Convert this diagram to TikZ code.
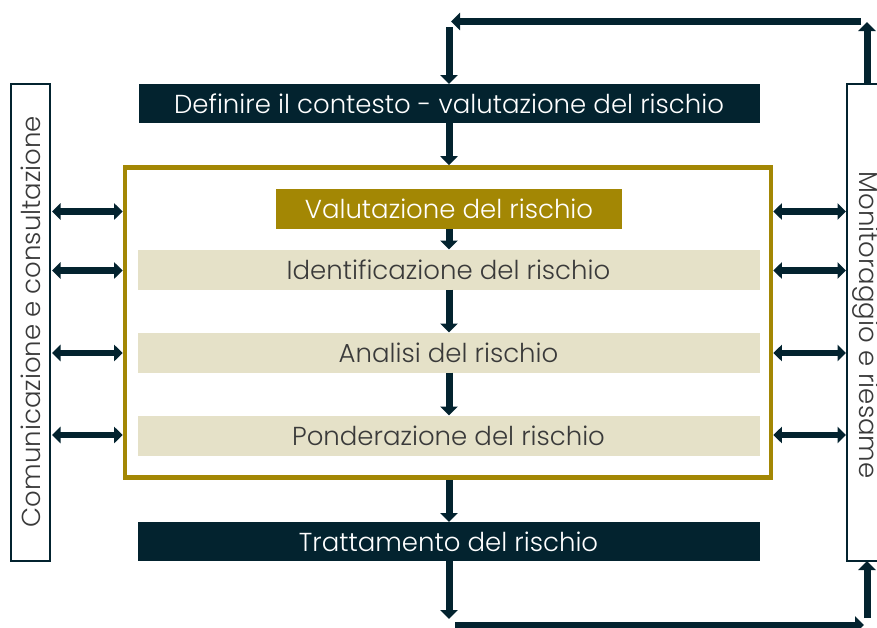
\documentclass[tikz,border=0pt]{standalone}
\usepackage{fontspec}
\IfFontExistsTF{Poppins Light}{\setmainfont{Poppins Light}}{\setmainfont{Poppins}}
\usetikzlibrary{arrows.meta}
\definecolor{navy}{HTML}{03232F}
\definecolor{gold}{HTML}{A38704}
\definecolor{beige}{HTML}{E5E1C8}
\definecolor{txtgray}{HTML}{3A3A3A}
\begin{document}
\begin{tikzpicture}[x=1pt,y=-1pt,
  every node/.style={inner sep=0pt,outer sep=0pt,font=\fontsize{26}{28}\selectfont},
  darkbox/.style={fill=navy,text=white,minimum width=621pt,minimum height=39pt},
  goldbox/.style={fill=gold,text=white,minimum width=346pt,minimum height=40pt},
  band/.style={fill=beige,text=txtgray,minimum width=622pt,minimum height=40pt},
  sidebox/.style={draw=navy,line width=1.2pt,fill=white,text=txtgray,minimum width=39pt,minimum height=477pt},
  arr/.style={draw=navy,line width=7pt,-{Triangle[width=17pt,length=9pt]}},
  darr/.style={draw=navy,line width=6.5pt,{Triangle[width=16pt,length=8.5pt]}-{Triangle[width=16pt,length=8.5pt]}}
]
\useasboundingbox (0,0) rectangle (877,627);
% side boxes
\node[sidebox] (lbox) at (30.5,322.5) {};
\node[rotate=90,text=txtgray] (ltext) at (31,321.5) {Comunicazione e consultazione};
\node[sidebox,minimum width=40pt] (rbox) at (867,322.5) {};
\node[rotate=-90,text=txtgray] (rtext) at (866,325) {Monitoraggio e riesame};
% main boxes
\node[darkbox] (def) at (449,103.5) {Definire il contesto - valutazione del rischio};
\node[draw=gold,line width=4.6pt,minimum width=646pt,minimum height=310pt,outer sep=2.3pt] (frame) at (448,322.5) {};
\node[goldbox] (val) at (449,209) {Valutazione del rischio};
\node[band] (ident) at (448.5,269.5) {Identificazione del rischio};
\node[band] (anal) at (448.5,352.5) {Analisi del rischio};
\node[band] (pond) at (448.5,435.5) {Ponderazione del rischio};
\node[darkbox,minimum width=622pt] (tratt) at (448.5,541.5) {Trattamento del rischio};
% coordinates for the loop
\coordinate (b1) at (449,619);
\coordinate (b2) at (455,625);
\coordinate (b3) at (864,625);
\coordinate (b4) at (867,618);
\coordinate (t1) at (867,22);
\coordinate (t2) at (861,21.5);
\coordinate (t3) at (451,21.5);
\coordinate (t4) at (449,27);
% vertical flow
\draw[arr] (t4) -- (def.north -| t4);
\draw[arr] (def.south -| t4) -- (frame.north -| t4);
\draw[arr] (val.south -| t4) -- (ident.north -| t4);
\draw[arr] (ident.south -| t4) -- (anal.north -| t4);
\draw[arr] (anal.south -| t4) -- (pond.north -| t4);
\draw[arr] (frame.south -| t4) -- (tratt.north -| t4);
\draw[arr] (tratt.south -| t4) -- (b1);
\draw[arr] (b2) -- (b3);
\draw[arr] (b4) -- (rbox.south -| b4);
\draw[arr] (rbox.north -| t1) -- (t1);
\draw[arr] (t2) -- (t3);
% double arrows
\foreach \n/\yy in {val/211.5,ident/270.5,anal/353,pond/435}{
  \draw[darr] ([xshift=2pt]lbox.east |- 0,\yy) -- (frame.west |- 0,\yy);
  \draw[darr] (frame.east |- 0,\yy) -- ([xshift=-1pt]rbox.west |- 0,\yy);
}
\end{tikzpicture}
\end{document}
